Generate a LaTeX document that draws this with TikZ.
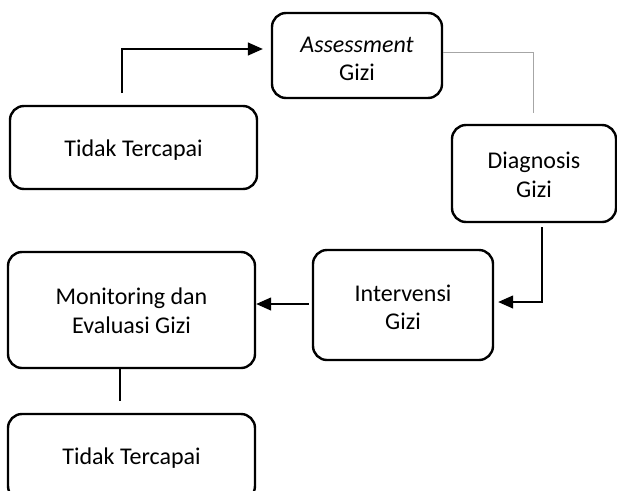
\documentclass[tikz,border=0pt]{standalone}
\usepackage{fontspec}
\setmainfont{Carlito}
\usetikzlibrary{arrows.meta}
\begin{document}
\begin{tikzpicture}[x=1pt,y=-1pt,
  box/.style={draw=black,line width=2.4pt,rounded corners=14pt,inner sep=0pt},
  txt/.style={anchor=base,inner sep=0pt,font=\fontsize{24}{29}\selectfont},
  conn/.style={draw=black,line width=1.3pt},
  tip/.style={-{Triangle[length=15pt,width=13pt]}}]
\useasboundingbox (0,0) rectangle (617,490);
\clip (0,0) rectangle (617,490);
% boxes
\node[box,minimum width=170pt,minimum height=85pt] (ass) at (357,55.5) {};
\node[box,minimum width=247pt,minimum height=83pt] (tt1) at (133.5,147.5) {};
\node[box,minimum width=164pt,minimum height=97pt] (dia) at (534,173.5) {};
\node[box,minimum width=180pt,minimum height=110pt] (int) at (403,305) {};
\node[box,minimum width=247pt,minimum height=116pt] (mon) at (131.5,310) {};
\node[box,minimum width=247pt,minimum height=86pt] (tt2) at (131.5,457) {};
% texts
\node[txt] (ass1) at (357,52) {\itshape Assessment};
\node[txt] (ass2) at (357,80.5) {Gizi};
\node[txt] (tt1t) at (133.5,156.5) {Tidak Tercapai};
\node[txt] (dia1) at (534,168) {Diagnosis};
\node[txt] (dia2) at (534,197) {Gizi};
\node[txt] (int1) at (403,301) {Intervensi};
\node[txt] (int2) at (403,329.5) {Gizi};
\node[txt] (mon1) at (131.5,304.5) {Monitoring dan};
\node[txt] (mon2) at (131.5,333) {Evaluasi Gizi};
\node[txt] (tt2t) at (131.5,464.5) {Tidak Tercapai};
% free ends
\coordinate (a1) at (122,93);
\coordinate (g1) at (533,113);
\coordinate (d1) at (542,227);
\coordinate (m1) at (120,401);
% connectors
\draw[conn,tip,shorten >=8pt] (a1) |- (ass.west |- 0,49);
\draw[draw=black!35,line width=0.9pt] (ass.east |- 0,52) -| (g1);
\draw[conn,tip,shorten >=4pt] (d1) |- (int.east |- 0,302);
\draw[conn,tip,shorten <=3pt] (int.west |- 0,304) -- (mon.east |- 0,304);
\draw[conn] (mon.south -| m1) -- (m1);
\end{tikzpicture}
\end{document}
